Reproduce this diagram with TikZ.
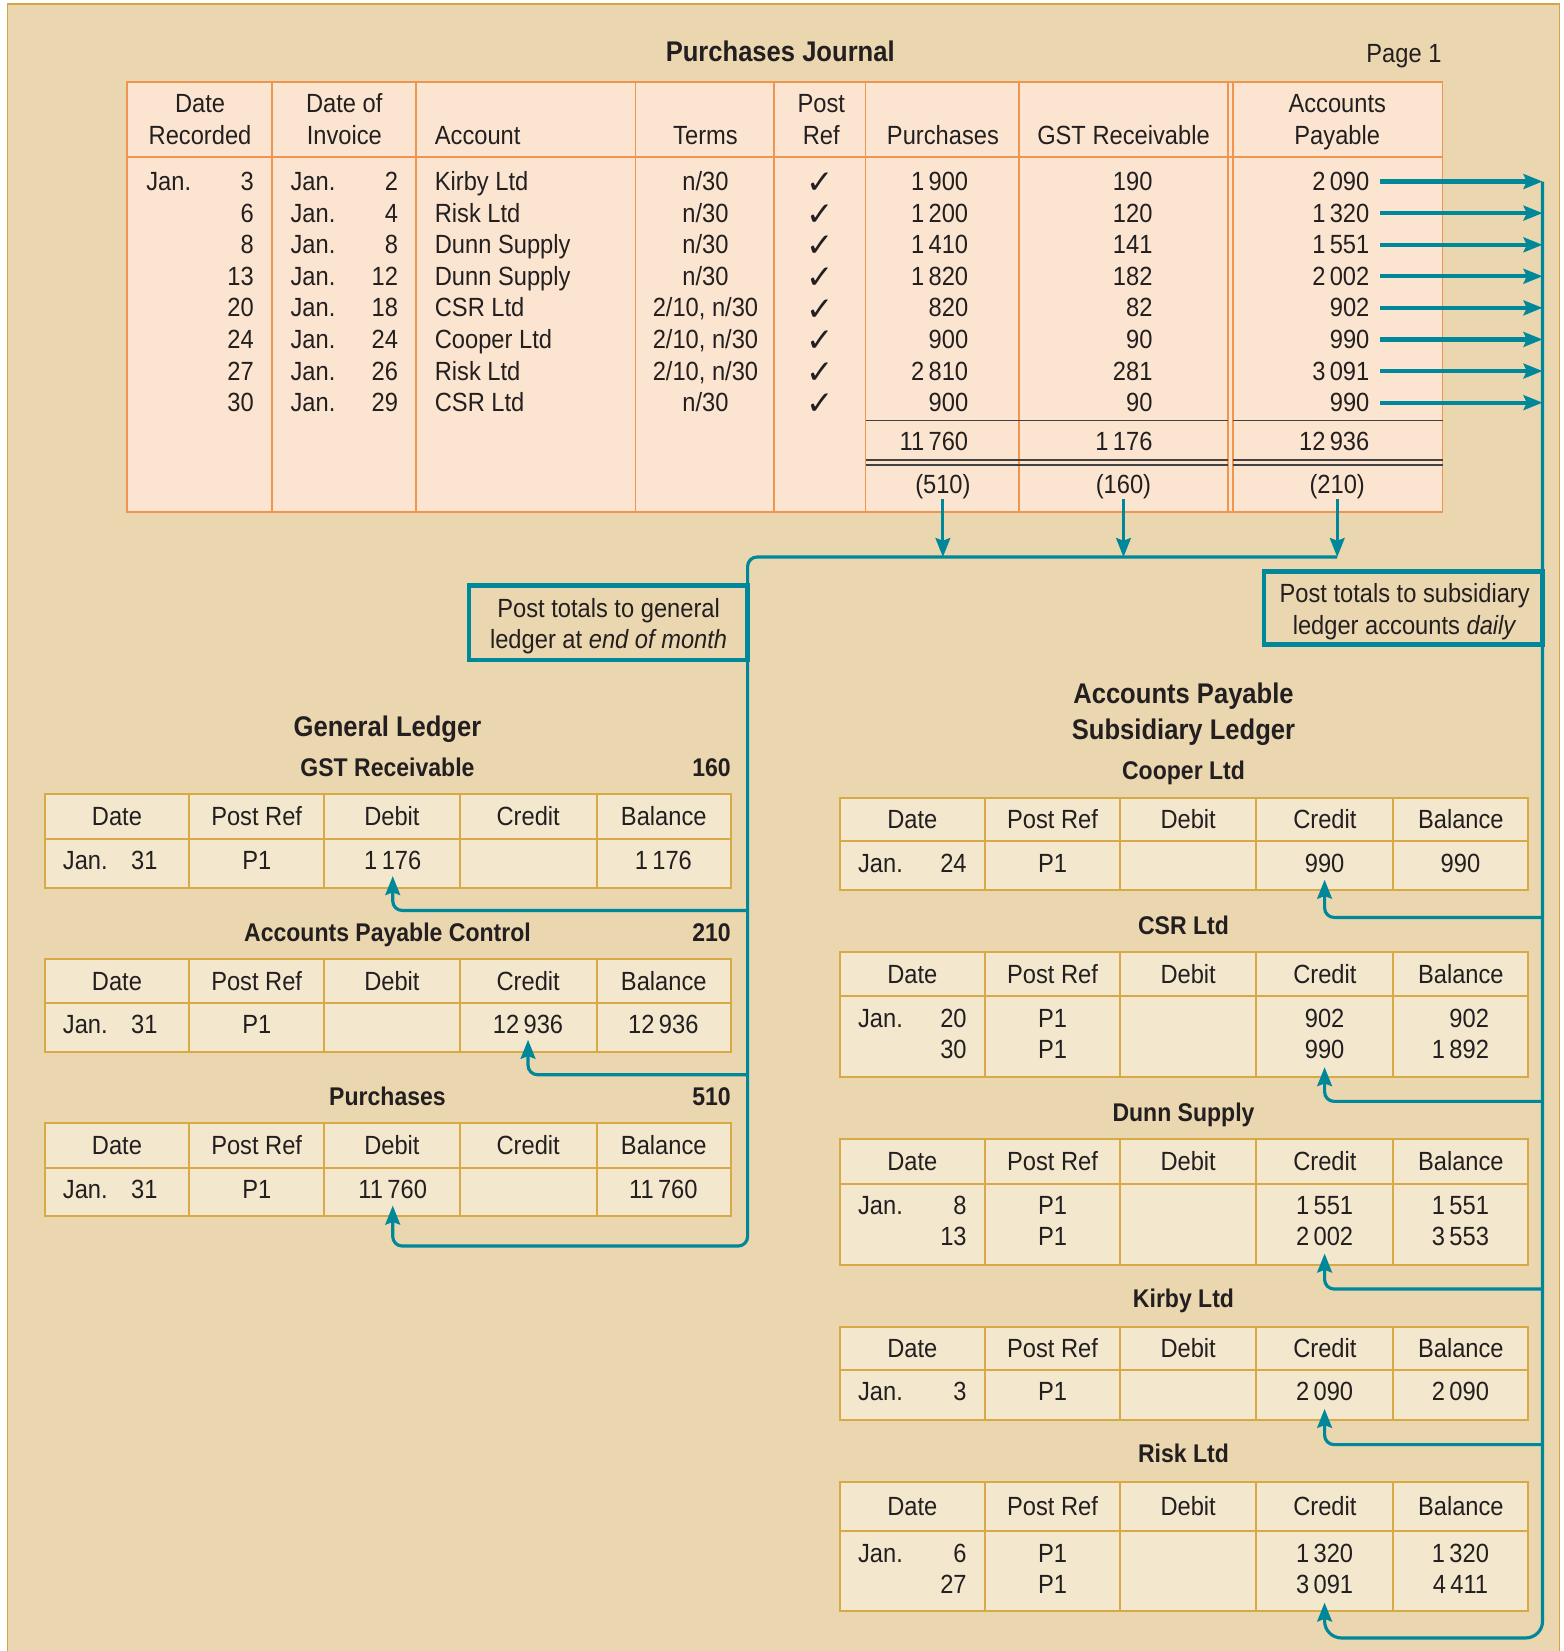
\documentclass[tikz,border=0pt]{standalone}
\usepackage{fontspec}
\setmainfont{Liberation Sans}[FakeStretch=0.9]
\newfontfamily\symfont{DejaVu Sans}
\usetikzlibrary{arrows.meta}

\definecolor{bgbeige}{HTML}{EAD6AF}
\definecolor{framegold}{HTML}{D6A445}
\definecolor{jfill}{HTML}{FBE5D0}
\definecolor{jorange}{HTML}{EE9650}
\definecolor{lfill}{HTML}{F3E7CD}
\definecolor{lgold}{HTML}{D8AA46}
\definecolor{flowteal}{HTML}{00889A}
\definecolor{ink}{HTML}{231F20}

\newcommand\bodyfont{\fontsize{25}{30}\selectfont}
\newcommand\titlefont{\bfseries\fontsize{27}{32}\selectfont}
\newcommand\subfont{\bfseries\fontsize{24.3}{29}\selectfont}
\newcommand\tick{{\symfont\fontsize{31}{31}\selectfont ✓}}

% one line of the purchases journal
\newcommand\jrow[9]{%
  \node[tr] (jdr#1) at (241,#2) {#3};
  \node[tl] (jij#1) at (276,#2) {Jan.};
  \node[tr] (jid#1) at (378,#2) {#4};
  \node[tl] (jac#1) at (413,#2) {#5};
  \node[tc] (jtm#1) at (670,#2) {#6};
  \node[tc,yshift=-3pt] (jck#1) at (779,#2) {\tick};
  \node[tr] (jpu#1) at (919.5,#2) {#7};
  \node[tr] (jgs#1) at (1094.5,#2) {#8};
  \node[tr] (ap#1) at (1300.5,#2) {#9};
}

% ledger account grid: name, left, width, top, header rule, bottom
\newcommand\ledgergrid[6]{%
  \fill[lfill] (#2,#4) rectangle (#2+#3,#6);
  \draw[lline] (#2,#4) rectangle (#2+#3,#6);
  \draw[lline] (#2,#5) -- (#2+#3,#5);
  \foreach \f in {0.211,0.407,0.605,0.804}
    \draw[lline] (#2+\f*#3,#4) -- (#2+\f*#3,#6);
  \foreach \t/\f [count=\i] in {Date/0.1055,Post Ref/0.309,Debit/0.506,Credit/0.7045,Balance/0.902}
    \node[tc] (#1h\i) at (#2+\f*#3,{(#4+#5)/2}) {\t};
}

\begin{document}
\begin{tikzpicture}[x=1pt,y=-1pt,
  every node/.style={inner sep=0pt,outer sep=0pt,text=ink,font=\bodyfont},
  tc/.style={anchor=base,yshift=-8.5pt},
  tl/.style={anchor=base west,yshift=-8.5pt},
  tr/.style={anchor=base east,yshift=-8.5pt},
  headtitle/.style={anchor=base,yshift=-9.7pt,font=\titlefont},
  subtitle/.style={anchor=base,yshift=-8.7pt,font=\subfont},
  subnum/.style={anchor=base east,yshift=-8.7pt,font=\subfont},
  jline/.style={draw=jorange,line width=1.8pt},
  lline/.style={draw=lgold,line width=1.9pt},
  tline/.style={draw=ink!85,line width=1.2pt},
  conn/.style={draw=flowteal,line width=3pt,rounded corners=9pt},
  tip/.style={-{Stealth[length=18pt,width=14pt,inset=2.5pt]}},
  daily/.style={draw=flowteal,line width=4pt,-{Stealth[length=18pt,width=14pt,inset=3pt]}},
  postbox/.style={draw=flowteal,line width=4.5pt,fill=bgbeige,rectangle}
]
\useasboundingbox (0,0) rectangle (1485,1568);

% panel
\fill[bgbeige] (7,4) rectangle (1481,1568);
\draw[framegold,line width=1.6pt] (7,1568) -- (7,4) -- (1481,4) -- (1481,1568);

% ---------------- Purchases journal ----------------
\node[headtitle] (jtitle) at (741,49) {Purchases Journal};
\node[tr] (jpage) at (1369,50.6) {Page 1};

\fill[jfill] (121,78) rectangle (1370,486.5);
\draw[jline] (121,78) rectangle (1370,486.5);
\draw[jline] (121,149) -- (1370,149);
\foreach \x in {258,395,603.5,735.5,822,968,1166.6,1171.4}
  \draw[jline] (\x,78) -- (\x,486.5);
\foreach \y in {399.4,436.8,441.5}
  \draw[tline] (822,\y) -- (1166.6,\y) (1171.4,\y) -- (1370,\y);

\node[tc] (hdr1a) at (190,98.7) {Date};
\node[tc] (hdr1b) at (190,128.5) {Recorded};
\node[tc] (hdr2a) at (327,98.7) {Date of};
\node[tc] (hdr2b) at (327,128.5) {Invoice};
\node[tl] (hdr3) at (413,128.5) {Account};
\node[tc] (hdr4) at (670,128.5) {Terms};
\node[tc] (hdr5a) at (780,98.7) {Post};
\node[tc] (hdr5b) at (780,128.5) {Ref};
\node[tc] (hdr6) at (895.5,128.5) {Purchases};
\node[tc] (hdr7) at (1067,128.5) {GST Receivable};
\node[tc] (hdr8a) at (1270,98.7) {Accounts};
\node[tc] (hdr8b) at (1270,128.5) {Payable};

\node[tl] (jrjan) at (139,172.5) {Jan.};
\jrow{1}{172.5}{3}{2}{Kirby Ltd}{n/30}{1\,900}{190}{2\,090}
\jrow{2}{202.5}{6}{4}{Risk Ltd}{n/30}{1\,200}{120}{1\,320}
\jrow{3}{232.5}{8}{8}{Dunn Supply}{n/30}{1\,410}{141}{1\,551}
\jrow{4}{262.5}{13}{12}{Dunn Supply}{n/30}{1\,820}{182}{2\,002}
\jrow{5}{292.5}{20}{18}{CSR Ltd}{2/10, n/30}{820}{82}{902}
\jrow{6}{322.5}{24}{24}{Cooper Ltd}{2/10, n/30}{900}{90}{990}
\jrow{7}{352.5}{27}{26}{Risk Ltd}{2/10, n/30}{2\,810}{281}{3\,091}
\jrow{8}{382.5}{30}{29}{CSR Ltd}{n/30}{900}{90}{990}

\node[tr] (tpur) at (919.5,419.4) {11\,760};
\node[tr] (tgst) at (1094.5,419.4) {1\,176};
\node[tr] (tap) at (1300.5,419.4) {12\,936};
\node[tc] (p510) at (895.5,460.5) {(510)};
\node[tc] (p160) at (1067,460.5) {(160)};
\node[tc] (p210) at (1270,460.5) {(210)};

% ---------------- General ledger ----------------
\node[headtitle] (gltitle) at (368,690) {General Ledger};

\node[subtitle] (glAname) at (368,729) {GST Receivable};
\node[subnum] (glAno) at (694,729) {160};
\ledgergrid{glA}{42.3}{652}{754.5}{797}{843.3}
\node[tl] (glAjan) at (59.8,817.5) {Jan.};
\node[tr] (glAday) at (149.6,817.5) {31};
\node[tc] (glAref) at (244,817.5) {P1};
\node[tc] (glAdeb) at (373,817.5) {1\,176};
\node[tc] (glAbal) at (630,817.5) {1\,176};

\node[subtitle] (glBname) at (368,885) {Accounts Payable Control};
\node[subnum] (glBno) at (694,885) {210};
\ledgergrid{glB}{42.3}{652}{910.5}{953}{998.7}
\node[tl] (glBjan) at (59.8,973.5) {Jan.};
\node[tr] (glBday) at (149.6,973.5) {31};
\node[tc] (glBref) at (244,973.5) {P1};
\node[tc] (glBcred) at (501.5,973.5) {12\,936};
\node[tc] (glBbal) at (630,973.5) {12\,936};

\node[subtitle] (glCname) at (368,1041) {Purchases};
\node[subnum] (glCno) at (694,1041) {510};
\ledgergrid{glC}{42.3}{652}{1066.5}{1109}{1154.6}
\node[tl] (glCjan) at (59.8,1129.5) {Jan.};
\node[tr] (glCday) at (149.6,1129.5) {31};
\node[tc] (glCref) at (244,1129.5) {P1};
\node[tc] (glCdeb) at (373,1129.5) {11\,760};
\node[tc] (glCbal) at (630,1129.5) {11\,760};

% ---------------- Accounts payable subsidiary ledger ----------------
\node[headtitle] (aptitle1) at (1124,658.3) {Accounts Payable};
\node[headtitle] (aptitle2) at (1124,693) {Subsidiary Ledger};

\node[subtitle] (coopname) at (1124,731.5) {Cooper Ltd};
\ledgergrid{coop}{797.5}{654}{757.7}{798.5}{845.7}
\node[tl] (coopjan) at (815,820) {Jan.};
\node[tr] (coopday) at (918,820) {24};
\node[tc] (coopref) at (999.6,820) {P1};
\node[tc] (coopcred) at (1258,820) {990};
\node[tc] (coopbal) at (1387,820) {990};

\node[subtitle] (csrname) at (1124,879) {CSR Ltd};
\ledgergrid{csr}{797.5}{654}{904.5}{945.7}{1022.6}
\node[tl] (csrjan) at (815,967) {Jan.};
\node[tr] (csrdayA) at (918,967) {20};
\node[tr] (csrdayB) at (918,997) {30};
\node[tc] (csrrefA) at (999.6,967) {P1};
\node[tc] (csrrefB) at (999.6,997) {P1};
\node[tc] (csrcredA) at (1258,967) {902};
\node[tc] (csrcredB) at (1258,997) {990};
\node[tc] (csrbalB) at (1387,997) {1\,892};
\node[anchor=base east] (csrbalA) at ([yshift=30pt]csrbalB.base east) {902};

\node[subtitle] (dunnname) at (1124,1056.5) {Dunn Supply};
\ledgergrid{dunn}{797.5}{654}{1081.8}{1124.2}{1201}
\node[tl] (dunnjan) at (815,1144.5) {Jan.};
\node[tr] (dunndayA) at (918,1144.5) {8};
\node[tr] (dunndayB) at (918,1174.5) {13};
\node[tc] (dunnrefA) at (999.6,1144.5) {P1};
\node[tc] (dunnrefB) at (999.6,1174.5) {P1};
\node[tc] (dunncredA) at (1258,1144.5) {1\,551};
\node[tc] (dunncredB) at (1258,1174.5) {2\,002};
\node[tc] (dunnbalA) at (1387,1144.5) {1\,551};
\node[tc] (dunnbalB) at (1387,1174.5) {3\,553};

\node[subtitle] (kirbyname) at (1124,1233) {Kirby Ltd};
\ledgergrid{kirby}{797.5}{654}{1260.3}{1300.8}{1348.3}
\node[tl] (kirbyjan) at (815,1321.5) {Jan.};
\node[tr] (kirbyday) at (918,1321.5) {3};
\node[tc] (kirbyref) at (999.6,1321.5) {P1};
\node[tc] (kirbycred) at (1258,1321.5) {2\,090};
\node[tc] (kirbybal) at (1387,1321.5) {2\,090};

\node[subtitle] (riskname) at (1124,1380) {Risk Ltd};
\ledgergrid{risk}{797.5}{654}{1407.5}{1454.3}{1529.6}
\node[tl] (riskjan) at (815,1475) {Jan.};
\node[tr] (riskdayA) at (918,1475) {6};
\node[tr] (riskdayB) at (918,1504.5) {27};
\node[tc] (riskrefA) at (999.6,1475) {P1};
\node[tc] (riskrefB) at (999.6,1504.5) {P1};
\node[tc] (riskcredA) at (1258,1475) {1\,320};
\node[tc] (riskcredB) at (1258,1504.5) {3\,091};
\node[tc] (riskbalA) at (1387,1475) {1\,320};
\node[tc] (riskbalB) at (1387,1504.5) {4\,411};

% ---------------- month-end postings to the general ledger ----------------
\coordinate (hj) at (710,529);
\coordinate (glbot) at (710,1183.4);
\coordinate (glbrA) at (710,864.7);
\coordinate (glbrB) at (710,1020.7);
\foreach \n in {p510,p160,p210}
  \draw[conn,tip] (\n.south) -- (\n.south |- hj);
\draw[conn,tip] (p210.south |- hj) -- (hj) -- (glbot) -| ([yshift=-7pt]glCdeb.base);
\draw[conn,tip] (glbrA) -| ([yshift=-6pt]glAdeb.base);
\draw[conn,tip] (glbrB) -| ([yshift=-5.5pt]glBcred.base);

% ---------------- daily postings to the subsidiary ledger ----------------
\coordinate (dtop) at (1465,172.5);
\coordinate (dbot) at (1465,1555.6);
\coordinate (brcoop) at (1465,871.3);
\coordinate (brcsr) at (1465,1046);
\coordinate (brdunn) at (1465,1224.2);
\coordinate (brkirby) at (1465,1372);
\foreach \i in {1,...,8}
  \draw[daily] ([xshift=10pt]ap\i.east) -- (ap\i.east -| dtop);
\draw[conn,tip,rounded corners=16pt] (dtop) -- (dbot) -| ([yshift=-9pt]riskcredB.base);
\draw[conn,tip] (brcoop) -| ([yshift=-7pt]coopcred.base);
\draw[conn,tip] (brcsr) -| ([yshift=-8pt]csrcredB.base);
\draw[conn,tip] (brdunn) -| ([yshift=-7.5pt]dunncredB.base);
\draw[conn,tip] (brkirby) -| ([yshift=-8pt]kirbycred.base);

% ---------------- posting notes ----------------
\node[postbox,minimum width=264.5pt,minimum height=70.5pt] (genbox) at (577.75,591.5) {};
\node[tc] (genboxA) at (578,577.6) {Post totals to general};
\node[tc] (genboxB) at (578,607.7) {ledger at \textit{end of month}};

\node[postbox,minimum width=264.5pt,minimum height=69.5pt] (subbox) at (1332.75,577.6) {};
\node[tc] (subboxA) at (1334,563.4) {Post totals to subsidiary};
\node[tc] (subboxB) at (1334,594) {ledger accounts \textit{daily}};
\end{tikzpicture}
\end{document}
